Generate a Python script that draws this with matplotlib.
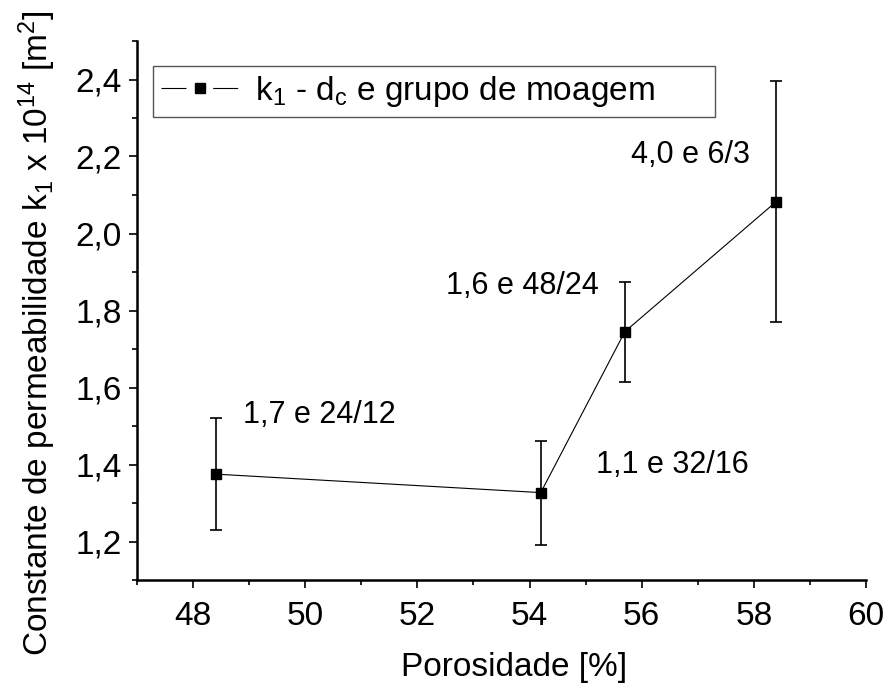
import numpy as np
import matplotlib
matplotlib.use("Agg")
from matplotlib import pyplot as plt
from matplotlib.patches import Rectangle
from matplotlib.lines import Line2D

# dados
porosidade = [48.4, 54.2, 55.7, 58.4]
k1 = [1.375, 1.327, 1.745, 2.083]
k1_erro = [0.145, 0.135, 0.130, 0.312]
rotulos = ["1,7 e 24/12", "1,1 e 32/16", "1,6 e 48/24", "4,0 e 6/3"]
rotulos_pos = [(48.89, 1.509), (55.18, 1.377), (52.51, 1.842), (55.81, 2.184)]

x_ticks = [48, 50, 52, 54, 56, 58, 60]
y_ticks = [1.2, 1.4, 1.6, 1.8, 2.0, 2.2, 2.4]
y_ticklabels = ["1,2", "1,4", "1,6", "1,8", "2,0", "2,2", "2,4"]

plt.rcParams['font.family'] = ['Liberation Sans', 'DejaVu Sans']
plt.rcParams['mathtext.fontset'] = 'custom'
plt.rcParams['mathtext.rm'] = 'Liberation Sans'
plt.rcParams['mathtext.it'] = 'Liberation Sans:italic'
plt.rcParams['mathtext.default'] = 'regular'
plt.rcParams['lines.scale_dashes'] = False

fig = plt.figure(figsize=(8.89, 6.84), dpi=100)
ax = fig.add_axes([137/889, 1 - 580/684, 729/889, 539/684])

ax.errorbar(porosidade, k1, yerr=k1_erro, fmt='none', ecolor='black',
            elinewidth=1.2, capsize=4.3, capthick=1.2, zorder=2)
ax.plot(porosidade, k1, color='black', lw=0.8, marker='s', ms=7.5, zorder=3)

for txt, (tx, ty) in zip(rotulos, rotulos_pos):
    ax.text(tx, ty, txt, fontsize=22, va='baseline', ha='left')

ax.set_xlim(47, 60)
ax.set_ylim(1.1, 2.5)
ax.set_xticks(x_ticks)
ax.set_xticklabels([str(v) for v in x_ticks])
ax.set_xticks(np.arange(47, 60, 2), minor=True)
ax.set_yticks(y_ticks)
ax.set_yticklabels(y_ticklabels)
ax.set_yticks(np.arange(1.1, 2.55, 0.2), minor=True)

for s in ['top', 'right']:
    ax.spines[s].set_visible(False)
for s in ['left', 'bottom']:
    ax.spines[s].set_linewidth(1.8)

ax.tick_params(which='major', direction='out', length=6, width=1.2, labelsize=24)
ax.tick_params(axis='x', which='major', pad=9)
ax.tick_params(axis='y', which='major', pad=5)
ax.tick_params(which='minor', direction='out', length=3.5, width=1.2)

ax.set_xlabel("Porosidade [%]", fontsize=24)
ax.xaxis.set_label_coords(0.517, -0.134)
ax.set_ylabel(r"Constante de permeabilidade k$_1$ x 10$^{14}$ [m$^2$]", fontsize=24)
ax.yaxis.set_label_coords(-0.108, 0.458)

# legenda no estilo do Origin: linha - quadrado - linha
handle = Line2D([], [], color='black', lw=0.8, marker='s', ms=6.5,
                dashes=(18, 19.2, 18, 20))
ax.legend([handle], [r"k$_1$ - d$_c$ e grupo de moagem"], loc='upper left',
          bbox_to_anchor=(0.022, 0.954), borderaxespad=0, frameon=False,
          fontsize=24, handlelength=2.3, handletextpad=0.5, borderpad=0.25)
ax.add_patch(Rectangle((0.022, 0.954 - 51/539), (715 - 153)/729, 51/539,
                       transform=ax.transAxes, fill=False, edgecolor='#555555',
                       lw=1.0, zorder=1))

fig.savefig("out.png", dpi=100)
